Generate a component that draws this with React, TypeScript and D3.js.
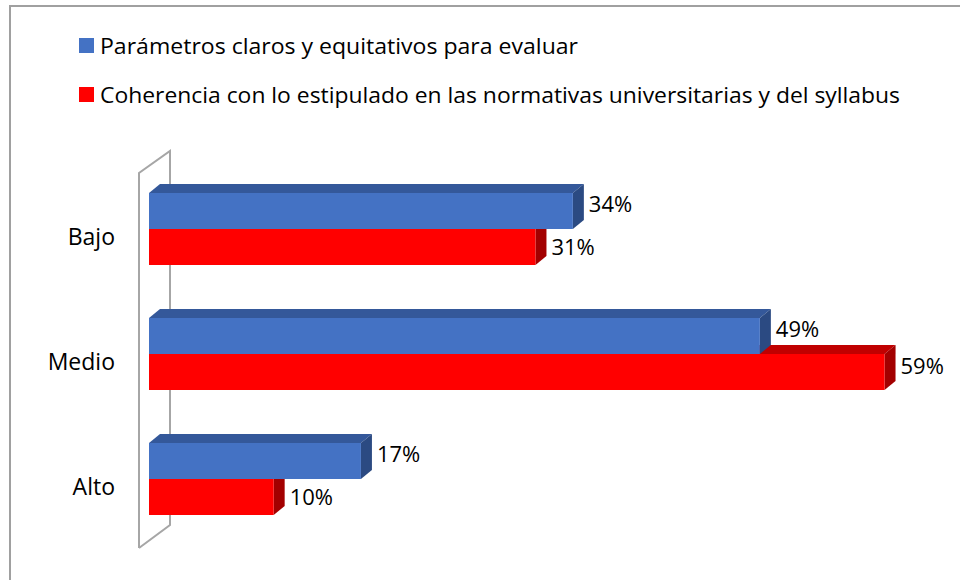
import React, { useEffect, useRef } from 'react';
import * as d3 from 'd3';

const categories = ['Bajo', 'Medio', 'Alto'];
const seriesNames = [
  'Parámetros claros y equitativos para evaluar',
  'Coherencia con lo estipulado en las normativas universitarias y del syllabus',
];
const parametros = [34, 49, 17];
const coherencia = [31, 59, 10];

const FONT = '"Open Sans", "Noto Sans", sans-serif';

export default function App() {
  const ref = useRef<SVGSVGElement | null>(null);

  useEffect(() => {
    const svg = d3.select(ref.current);
    svg.selectAll('*').remove();

    const series = [
      { name: seriesNames[0], values: parametros, front: '#4472C4', top: '#34589A', side: '#2B4A82' },
      { name: seriesNames[1], values: coherencia, front: '#FF0000', top: '#C00000', side: '#A30000' },
    ];

    const x = d3.scaleLinear().domain([0, 60]).range([149, 897]);
    const y = d3.scalePoint<string>().domain(categories).range([229, 479]);
    const inner = d3.scaleBand<number>().domain([0, 1]).range([-36, 36]);
    const dx = 11;
    const dy = -9;

    // outer frame
    svg.append('rect')
      .attr('x', 10).attr('y', 6)
      .attr('width', 980).attr('height', 600)
      .attr('fill', '#fff')
      .attr('stroke', '#a0a0a0')
      .attr('stroke-width', 2);

    // legend
    const legendWidths = [478, 800];
    series.forEach((s, i) => {
      const g = svg.append('g').attr('transform', `translate(79, ${38 + i * 49})`);
      g.append('rect').attr('width', 15).attr('height', 15).attr('fill', s.front);
      g.append('text')
        .attr('x', 21).attr('y', 16)
        .attr('font-family', FONT).attr('font-size', 22.5)
        .attr('textLength', legendWidths[i])
        .attr('lengthAdjust', 'spacingAndGlyphs')
        .attr('fill', '#000')
        .text(s.name);
    });

    // side wall (3d)
    const wall = d3.path();
    wall.moveTo(139, 548);
    wall.lineTo(139, 173);
    wall.lineTo(170, 151);
    wall.lineTo(170, 525);
    wall.lineTo(139, 548);
    svg.append('path')
      .attr('d', wall.toString())
      .attr('fill', 'none')
      .attr('stroke', '#a6a6a6')
      .attr('stroke-width', 2);

    // bars: lower series first so the upper bar covers its top face
    const order = [1, 0];
    categories.forEach((c, ci) => {
      order.forEach((si) => {
        const s = series[si];
        const v = s.values[ci];
        const y0 = (y(c) as number) + (inner(si) as number);
        const h = inner.bandwidth();
        const x0 = x(0);
        const x1 = x(v);
        const g = svg.append('g');
        g.append('polygon')
          .attr('points', [[x0, y0], [x1, y0], [x1 + dx, y0 + dy], [x0 + dx, y0 + dy]].join(' '))
          .attr('fill', s.top);
        g.append('polygon')
          .attr('points', [[x1, y0], [x1 + dx, y0 + dy], [x1 + dx, y0 + dy + h], [x1, y0 + h]].join(' '))
          .attr('fill', s.side);
        g.append('rect')
          .attr('x', x0).attr('y', y0)
          .attr('width', x1 - x0).attr('height', h)
          .attr('fill', s.front);
      });
    });

    // value labels
    series.forEach((s, si) => {
      s.values.forEach((v, ci) => {
        const cy = (y(categories[ci]) as number) + (inner(si) as number) + inner.bandwidth() / 2;
        let off = si === 0 ? 1 : 2;
        if (si === 1 && v < parametros[ci]) off += 6;
        svg.append('text')
          .attr('x', x(v) + dx + 5)
          .attr('y', cy + off)
          .attr('font-family', FONT).attr('font-size', 22)
          .attr('fill', '#000')
          .text(`${v}%`);
      });
    });

    // category labels
    categories.forEach((c) => {
      svg.append('text')
        .attr('x', 115)
        .attr('y', (y(c) as number) + 16)
        .attr('text-anchor', 'end')
        .attr('font-family', FONT).attr('font-size', 23)
        .attr('fill', '#000')
        .text(c);
    });
  }, []);

  return (
    <svg
      ref={ref}
      width={960}
      height={580}
      style={{ position: 'absolute', left: 0, top: 0, background: '#fff' }}
    />
  );
}
